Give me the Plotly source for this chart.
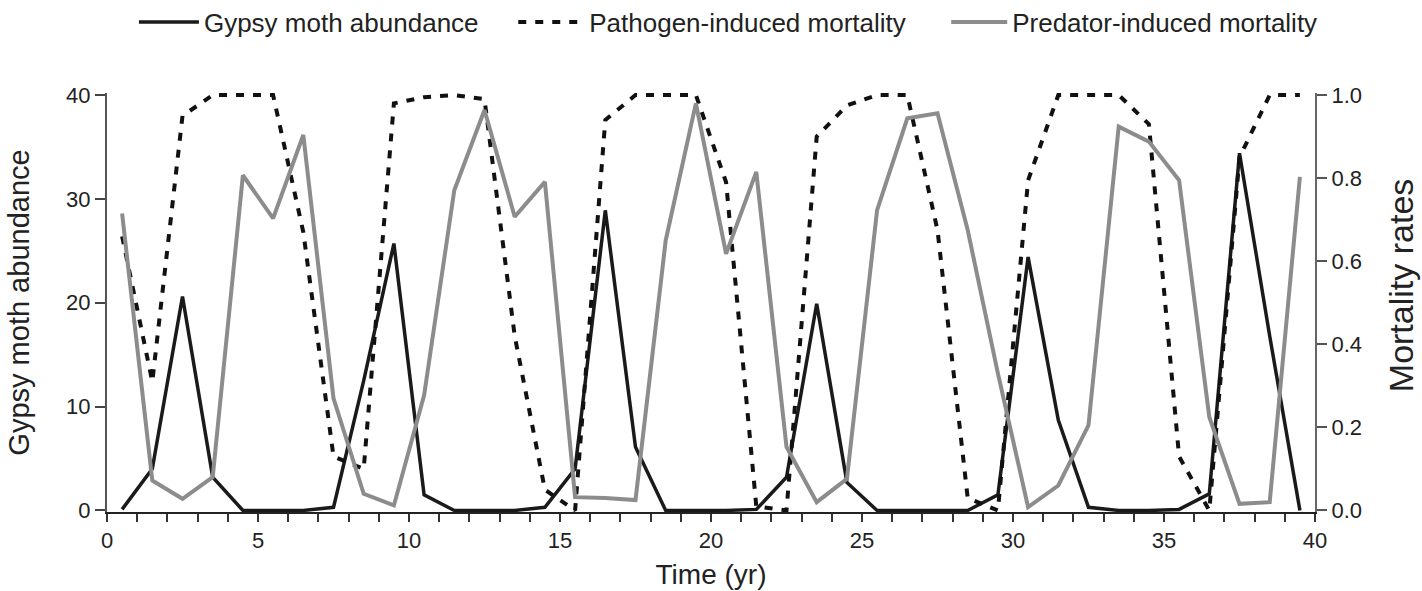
import plotly.graph_objects as go

# ---- data ----
time_yr = [0.5, 1.5, 2.5, 3.5, 4.5, 5.5, 6.5, 7.5, 8.5, 9.5,
           10.5, 11.5, 12.5, 13.5, 14.5, 15.5, 16.5, 17.5, 18.5, 19.5,
           20.5, 21.5, 22.5, 23.5, 24.5, 25.5, 26.5, 27.5, 28.5, 29.5,
           30.5, 31.5, 32.5, 33.5, 34.5, 35.5, 36.5, 37.5, 38.5, 39.5]

gypsy_moth = [0.1, 4.0, 20.6, 3.2, 0.0, 0.0, 0.0, 0.3, 12.5, 25.7,
              1.5, 0.0, 0.0, 0.0, 0.3, 4.0, 28.9, 6.1, 0.0, 0.0,
              0.0, 0.1, 3.2, 19.9, 2.7, 0.0, 0.0, 0.0, 0.0, 1.5,
              24.4, 8.7, 0.3, 0.0, 0.0, 0.1, 1.6, 34.4, 16.8, 0.0]

pathogen_mort = [0.66, 0.31, 0.95, 1.0, 1.0, 1.0, 0.67, 0.13, 0.10, 0.98,
                 0.995, 1.0, 0.99, 0.42, 0.05, 0.0, 0.94, 1.0, 1.0, 1.0,
                 0.79, 0.01, 0.0, 0.90, 0.975, 1.0, 1.0, 0.675, 0.03, 0.0,
                 0.795, 1.0, 1.0, 1.0, 0.93, 0.13, 0.0, 0.85, 1.0, 1.0]

predator_mort = [0.715, 0.072, 0.028, 0.08, 0.807, 0.703, 0.904, 0.27, 0.04, 0.012,
                 0.277, 0.771, 0.964, 0.707, 0.791, 0.032, 0.03, 0.025, 0.65, 0.98,
                 0.618, 0.815, 0.153, 0.02, 0.076, 0.723, 0.944, 0.956, 0.675, 0.33,
                 0.008, 0.06, 0.205, 0.924, 0.888, 0.795, 0.225, 0.016, 0.02, 0.803]

x_tickvals = list(range(0, 41))
x_ticktext = [str(v) if v % 5 == 0 else "" for v in x_tickvals]
left_ticks = [0, 10, 20, 30, 40]
right_ticks = [0.0, 0.2, 0.4, 0.6, 0.8, 1.0]

x_title = "Time (yr)"
left_title = "Gypsy moth abundance"
right_title = "Mortality rates"

FONT = "Liberation Sans, Arial, Helvetica, sans-serif"
TXT = "#222222"

fig = go.Figure()
fig.add_trace(go.Scatter(
    x=time_yr, y=gypsy_moth, mode="lines", name="Gypsy moth abundance",
    line=dict(color="#1a1a1a", width=3.5), yaxis="y", legend="legend"))
fig.add_trace(go.Scatter(
    x=time_yr, y=pathogen_mort, mode="lines", name="Pathogen-induced mortality",
    line=dict(color="#111111", width=4, dash="8px,9px"), yaxis="y2", legend="legend2"))
fig.add_trace(go.Scatter(
    x=time_yr, y=predator_mort, mode="lines", name="Predator-induced mortality",
    line=dict(color="#8c8c8c", width=4), yaxis="y2", legend="legend3"))


def leg(xpaper, iw):
    return dict(orientation="h", x=xpaper, xanchor="left",
                y=1 - 22 / 591, yanchor="middle", yref="container",
                font=dict(size=26, family=FONT, color=TXT),
                itemwidth=iw, bgcolor="rgba(0,0,0,0)", borderwidth=0)


fig.update_layout(
    width=1422, height=591,
    margin=dict(l=107, r=107, t=93, b=79, autoexpand=False),
    paper_bgcolor="white", plot_bgcolor="white",
    font=dict(family=FONT, color=TXT, size=22),
    showlegend=True,
    legend=leg(0.0223, 60),
    legend2=leg(0.3363, 66),
    legend3=leg(0.6947, 56),
    xaxis=dict(range=[0, 40], tickmode="array", tickvals=x_tickvals, ticktext=x_ticktext,
               ticks="outside", ticklen=8, tickwidth=1.5, tickcolor="#333333",
               showline=True, linecolor="#222222", linewidth=2,
               showgrid=False, zeroline=False, automargin=False,
               tickfont=dict(size=22),
               title=dict(text=x_title, font=dict(size=28), standoff=12)),
    yaxis=dict(range=[-0.15, 40.2], tickmode="array", tickvals=left_ticks,
               ticks="outside", ticklen=10, tickwidth=1.5, tickcolor="#444444",
               showline=True, linecolor="#555555", linewidth=2,
               showgrid=False, zeroline=False, automargin=False,
               tickfont=dict(size=22),
               title=dict(text=left_title, font=dict(size=29), standoff=28)),
    yaxis2=dict(range=[-0.00375, 1.005], overlaying="y", side="right",
                tickmode="array", tickvals=right_ticks, tickformat=".1f",
                ticks="outside", ticklen=10, tickwidth=1.5, tickcolor="#555555",
                showline=True, linecolor="#666666", linewidth=2,
                showgrid=False, zeroline=False, automargin=False,
                tickfont=dict(size=22)),
    annotations=[dict(text=right_title, textangle=-90, showarrow=False,
                      xref="paper", yref="paper",
                      x=(1401 - 107) / 1208, y=(511.6 - 285) / 418.6,
                      xanchor="center", yanchor="middle",
                      font=dict(size=34, family=FONT, color=TXT))],
)

fig.write_html("out.html")
